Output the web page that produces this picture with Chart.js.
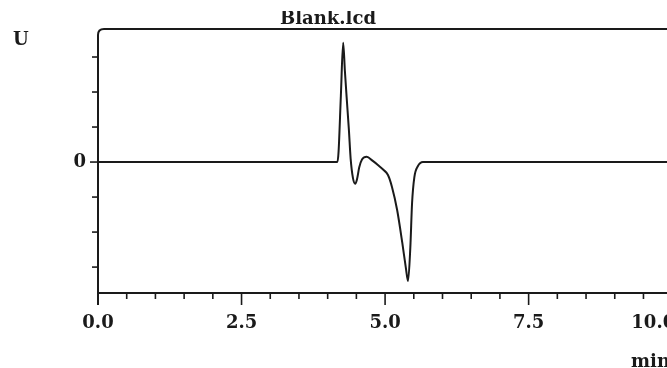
<!DOCTYPE html>
<html>
<head>
<meta charset="utf-8">
<script src="https://cdn.jsdelivr.net/npm/chart.js@4/dist/chart.umd.min.js"></script>
<style>
  html, body { margin: 0; padding: 0; background: #fff; }
  canvas { display: block; }
</style>
</head>
<body>
<canvas id="trace" width="667" height="368"></canvas>
<script>
// detector trace, time in min
const times = [0, 4.17, 4.19, 4.23, 4.27, 4.30, 4.33, 4.37, 4.40, 4.44, 4.48, 4.51, 4.55, 4.60, 4.68,
  4.78, 4.88, 4.97, 5.05, 5.12, 5.21, 5.30, 5.36, 5.40, 5.44, 5.47, 5.51, 5.57, 5.66, 5.80, 10.5];
const signal = [0, 0, 0.3, 1.9, 3.41, 2.6, 1.86, 0.91, 0.1, -0.45, -0.62, -0.5, -0.15, 0.08, 0.15,
  0.04, -0.09, -0.22, -0.37, -0.71, -1.37, -2.31, -3.0, -3.4, -2.43, -1.17, -0.43, -0.12, 0, 0, 0];

const xMajor = [0, 2.5, 5, 7.5, 10];
const xLabels = ['0.0', '2.5', '5.0', '7.5', '10.0'];
const yTicks = [-3, -2, -1, 0, 1, 2, 3];

const ink = '#1a1a1a';
const labelFont = 'bold 18px "DejaVu Serif"';

const points = times.map((t, i) => ({ x: t, y: signal[i] }));

// frame, ticks and labels are drawn by hand, positions come from the scales
const axisFrame = {
  id: 'axisFrame',
  afterDraw(chart) {
    const ctx = chart.ctx;
    const xs = chart.scales.x, ys = chart.scales.y;
    const { left, top, bottom } = chart.chartArea;
    const W = chart.width;
    ctx.save();
    ctx.strokeStyle = ink;
    ctx.lineWidth = 2;
    ctx.lineCap = 'butt';

    ctx.beginPath();
    ctx.moveTo(left, bottom + 12);
    ctx.lineTo(left, top + 6);
    ctx.quadraticCurveTo(left, top, left + 6, top);
    ctx.lineTo(W, top);
    ctx.stroke();

    ctx.beginPath();
    ctx.moveTo(left, bottom);
    ctx.lineTo(W, bottom);
    ctx.stroke();

    // x ticks every 0.5 min, longer at the labelled ones
    ctx.lineWidth = 1.6;
    for (let v = 0.5; v <= 10; v += 0.5) {
      const px = xs.getPixelForValue(v);
      if (px > W) break;
      const major = xMajor.includes(v);
      ctx.beginPath();
      ctx.moveTo(px, bottom);
      ctx.lineTo(px, bottom + (major ? 12 : 6));
      ctx.stroke();
    }
    yTicks.forEach(v => {
      const py = ys.getPixelForValue(v);
      ctx.beginPath();
      ctx.moveTo(left, py);
      ctx.lineTo(left - (v === 0 ? 8 : 6), py);
      ctx.stroke();
    });

    ctx.fillStyle = ink;
    ctx.font = labelFont;
    ctx.textBaseline = 'middle';
    xMajor.forEach((v, i) => {
      const px = xs.getPixelForValue(v);
      const last = i === xMajor.length - 1;
      ctx.textAlign = last ? 'right' : 'center';
      ctx.fillText(xLabels[i], last ? px + 3 : px, bottom + 30);
    });

    ctx.textAlign = 'right';
    ctx.fillText('0', left - 12, ys.getPixelForValue(0));
    ctx.textAlign = 'left';
    ctx.fillText('U', 13, 40);
    ctx.fillText('min', 631, 362);

    // title sits on the top rule, its upper part cut off
    ctx.save();
    ctx.beginPath();
    ctx.rect(0, 11, W, 30);
    ctx.clip();
    ctx.textAlign = 'center';
    ctx.textBaseline = 'alphabetic';
    ctx.fillText('Blank.lcd', 328, 24);
    ctx.restore();

    ctx.restore();
  }
};

new Chart(document.getElementById('trace'), {
  type: 'scatter',
  data: {
    datasets: [{
      data: points,
      showLine: true,
      borderColor: ink,
      borderWidth: 2,
      pointRadius: 0,
      cubicInterpolationMode: 'monotone',
      clip: false
    }]
  },
  options: {
    responsive: false,
    animation: false,
    devicePixelRatio: 1,
    layout: { padding: { left: 98, top: 29, right: 0, bottom: 75 } },
    plugins: { legend: { display: false }, tooltip: { enabled: false } },
    scales: {
      x: { type: 'linear', display: false, min: 0, max: 9.91 },
      y: { type: 'linear', display: false, min: -3.74, max: 3.8 }
    }
  },
  plugins: [axisFrame]
});
</script>
</body>
</html>
